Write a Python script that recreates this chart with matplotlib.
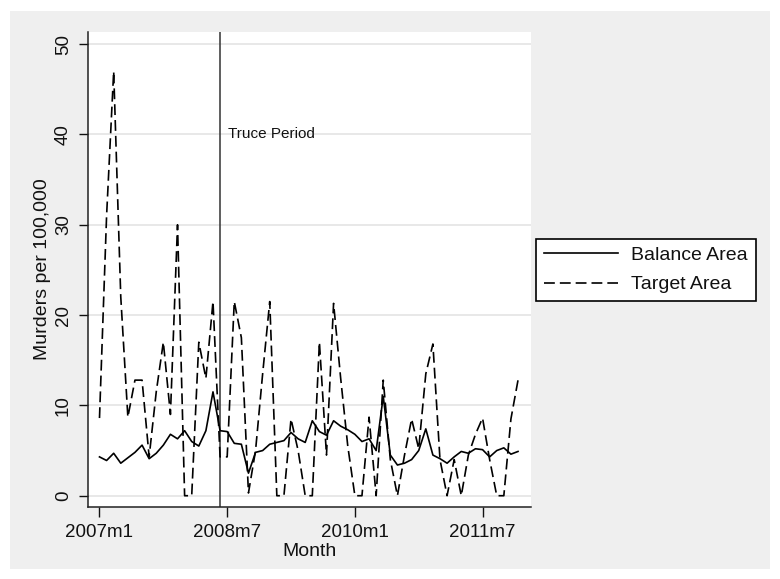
import matplotlib.pyplot as plt
import matplotlib.patches as patches
import numpy as np

# Monthly murder rates, 2007m1 - 2011m12
balance = [4.3, 3.9, 4.7, 3.6, 4.2, 4.8, 5.6, 4.1, 4.7, 5.6,
           6.8, 6.3, 7.2, 6.0, 5.5, 7.2, 11.5, 7.2, 7.1, 5.8,
           5.7, 2.5, 4.8, 5.0, 5.7, 5.9, 6.1, 7.0, 6.3, 5.9,
           8.3, 7.1, 6.7, 8.3, 7.7, 7.3, 6.8, 6.0, 6.3, 5.0,
           11.0, 4.5, 3.4, 3.6, 4.0, 5.0, 7.4, 4.5, 4.1, 3.6,
           4.3, 4.9, 4.7, 5.2, 5.1, 4.3, 5.0, 5.3, 4.6, 4.9]
target = [8.6, 31.0, 47.0, 22.0, 8.7, 12.8, 12.8, 4.3, 11.5, 17.0,
          9.0, 30.0, 0.0, 0.0, 17.0, 13.0, 21.5, 4.3, 4.3, 21.5,
          17.5, 0.3, 5.0, 13.5, 21.5, 0.0, 0.0, 8.5, 5.0, 0.0,
          0.0, 17.0, 4.5, 21.3, 13.0, 5.5, 0.0, 0.0, 8.7, 0.0,
          12.8, 4.0, 0.0, 4.5, 8.5, 5.2, 13.5, 16.8, 4.0, 0.0,
          4.0, 0.0, 4.5, 6.8, 8.6, 4.0, 0.0, 0.0, 8.5, 12.8]

xtick_pos = [0, 18, 36, 54]
xtick_labels = ['2007m1', '2008m7', '2010m1', '2011m7']
ytick_pos = [0, 10, 20, 30, 40, 50]
truce_month = 17  # 2008m6

months = np.arange(len(balance))

plt.rcParams['font.family'] = ['Liberation Sans', 'DejaVu Sans']
txt = '#111111'

fig = plt.figure(figsize=(7.8, 5.79), dpi=100)
fig.patch.set_facecolor('white')

# light gray graph region like Stata
W, H = 780.0, 579.0
fig.patches.append(patches.Rectangle((10 / W, 1 - 569 / H), 760 / W, 558 / H,
                                     transform=fig.transFigure, facecolor='#efefef',
                                     edgecolor='none', zorder=-10))

ax = fig.add_axes([88 / W, 1 - 507 / H, 443 / W, 475 / H])
ax.set_zorder(1)
ax.set_facecolor('white')

ax.plot(months, balance, color='black', lw=1.2, label='Balance Area', zorder=3)
ax.plot(months, target, color='black', lw=1.2, dashes=(6.5, 3.0), label='Target Area', zorder=3)

ax.axvline(truce_month, color='#333333', lw=1.1, zorder=2)
ax.text(18.1, 40, 'Truce Period', fontsize=11, color=txt, ha='left', va='center')

ax.set_xlim(-1.62, 60.83)
ax.set_ylim(-1.25, 51.35)

ax.set_xticks(xtick_pos)
ax.set_xticklabels(xtick_labels)
ax.set_yticks(ytick_pos)
ax.set_yticklabels([str(v) for v in ytick_pos], rotation=90, va='center')

ax.grid(axis='y', color='#e8e8e8', lw=1.4, zorder=0)
ax.set_axisbelow(True)

for side in ['top', 'right']:
    ax.spines[side].set_visible(False)
for side in ['left', 'bottom']:
    ax.spines[side].set_color('#222222')
    ax.spines[side].set_linewidth(1.1)

ax.tick_params(axis='x', length=7, width=1, pad=5, labelsize=13.5, colors=txt)
ax.tick_params(axis='y', length=6.5, width=1, pad=5, labelsize=13.5, colors=txt)

ax.set_xlabel('Month', fontsize=14, color=txt, labelpad=2)
ax.set_ylabel('Murders per 100,000', fontsize=14, color=txt, labelpad=3)

leg = fig.legend(loc='center left', bbox_to_anchor=(536 / W, 1 - 270 / H),
                 fontsize=14, frameon=True, fancybox=False, borderpad=0.4,
                 labelspacing=0.6, handlelength=3.8, handletextpad=0.7,
                 borderaxespad=0)
leg.set_zorder(5)
leg.get_frame().set_edgecolor('black')
leg.get_frame().set_linewidth(1.2)
leg.get_frame().set_facecolor('white')
leg.get_frame().set_alpha(1)
for t in leg.get_texts():
    t.set_color(txt)

plt.savefig('out.png', dpi=100)
